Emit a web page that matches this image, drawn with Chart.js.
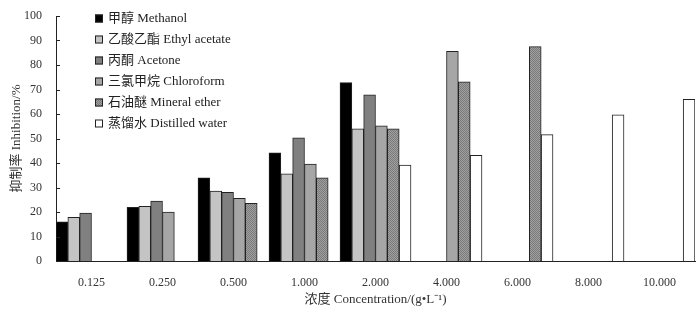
<!DOCTYPE html>
<html><head><meta charset="utf-8">
<script src="https://cdn.jsdelivr.net/npm/chart.js@4.4.1/dist/chart.umd.min.js"></script>
<style>html,body{margin:0;padding:0;background:#fff}#wrap{width:700px;height:315px}</style>
</head><body><div id="wrap"><canvas id="c" width="700" height="315"></canvas></div>
<script>
const categories = ['0.125','0.250','0.500','1.000','2.000','4.000','6.000','8.000','10.000'];
const seriesNames = ['甲醇 Methanol','乙酸乙酯 Ethyl acetate','丙酮 Acetone','三氯甲烷 Chloroform','石油醚 Mineral ether','蒸馏水 Distilled water'];
const methanol      = [16.0, 21.9, 33.9, 44.2, 72.8, null, null, null, null];
const ethylAcetate  = [17.8, 22.3, 28.5, 35.6, 53.9, null, null, null, null];
const acetone       = [19.6, 24.5, 28.0, 50.3, 67.8, null, null, null, null];
const chloroform    = [null, 20.0, 25.6, 39.6, 55.2, 85.6, null, null, null];
const mineralEther  = [null, null, 23.5, 33.9, 53.9, 73.1, 87.5, null, null];
const distilledWater= [null, null, null, null, 39.2, 43.1, 51.6, 59.7, 66.0];
const yTicks = [0,10,20,30,40,50,60,70,80,90,100];

const pc = document.createElement('canvas'); pc.width = 2; pc.height = 2;
const px = pc.getContext('2d');
px.fillStyle = '#a0a0a0'; px.fillRect(0,0,2,2);
px.fillStyle = '#7a7a7a'; px.fillRect(0,0,1,1); px.fillRect(1,1,1,1);
const ctx0 = document.getElementById('c').getContext('2d');
const pattern = ctx0.createPattern(pc, 'repeat');

const fills = ['#000000','#c4c4c4','#808080','#a6a6a6',pattern,'#ffffff'];
const allData = [methanol, ethylAcetate, acetone, chloroform, mineralEther, distilledWater];
const serif = '"Liberation Serif","Noto Sans CJK SC",serif';

const legendPlugin = {
  id:'innerLegend',
  afterDraw(chart){
    const c = chart.ctx;
    c.save();
    c.font = '13px ' + serif;
    c.textBaseline = 'middle';
    chart.data.datasets.forEach((ds,i)=>{
      const y = 18.5 + i*21;
      c.fillStyle = ds.backgroundColor;
      c.fillRect(95, y-4, 8, 8);
      c.strokeStyle = '#222'; c.lineWidth = 1;
      c.strokeRect(95.5, y-3.5, 7, 7);
      c.fillStyle = '#222';
      c.fillText(ds.label, 108, y+0.5);
    });
    const ys = chart.scales.y;
    c.strokeStyle = '#222'; c.lineWidth = 1;
    yTicks.forEach(v=>{
      const yy = Math.round(ys.getPixelForValue(v)) + 0.5;
      c.beginPath(); c.moveTo(ys.right, yy); c.lineTo(ys.right+4, yy); c.stroke();
    });
    c.restore();
  }
};

new Chart(ctx0, {
  type:'bar',
  data:{
    labels: categories,
    datasets: allData.map((d,i)=>({
      label: seriesNames[i], data: d,
      backgroundColor: fills[i], borderColor:'#222', borderWidth:1,
      barPercentage:1, categoryPercentage:1
    }))
  },
  options:{
    responsive:false, animation:false,
    layout:{padding:{top:16,right:5,left:0,bottom:0}},
    plugins:{legend:{display:false}, tooltip:{enabled:false}},
    scales:{
      x:{
        grid:{display:false}, border:{display:true,color:'#222',width:1},
        ticks:{color:'#333', font:{family:serif,size:12}, padding:7, maxRotation:0},
        title:{display:true, text:'浓度 Concentration/(g•L⁻¹)', color:'#333', font:{family:serif,size:13}, padding:{top:2,bottom:8}},
        afterFit(s){ s.height = 54; }
      },
      y:{
        min:0, max:100,
        afterBuildTicks(s){ s.ticks = yTicks.map(v=>({value:v})); },
        grid:{display:false}, border:{display:true,color:'#222',width:1},
        ticks:{color:'#333', font:{family:serif,size:12}, padding:6},
        title:{display:true, text:'抑制率 Inhibition/%', color:'#333', font:{family:serif,size:13}, padding:{top:9,bottom:0}},
        afterFit(s){ s.width = 56; }
      }
    }
  },
  plugins:[legendPlugin]
});
</script></body></html>
